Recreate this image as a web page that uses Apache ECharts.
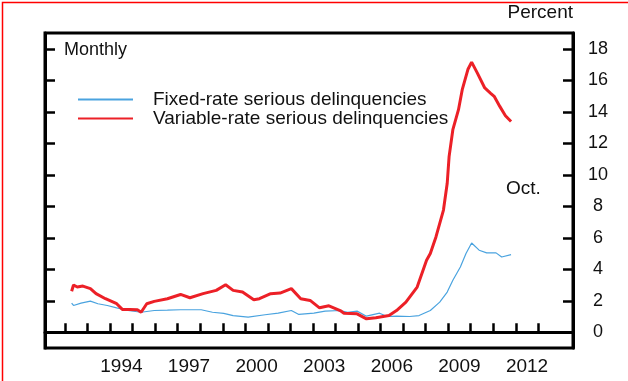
<!DOCTYPE html>
<html>
<head>
<meta charset="utf-8">
<script src="https://cdn.jsdelivr.net/npm/echarts@6/dist/echarts.min.js"></script>
<style>
html,body{margin:0;padding:0;background:#fff;}
#chart{width:628px;height:381px;}
</style>
</head>
<body>
<div id="chart"></div>
<script>
// Data (month, percent)
var fixedDates = ['1992-04','1992-05','1992-09','1993-02','1993-06','1993-11','1994-04','1994-10','1995-05','1995-12','1996-07','1997-02','1998-01','1998-07','1999-01','1999-06','2000-02','2000-11','2001-06','2002-01','2002-05','2003-01','2003-07','2004-03','2004-07','2004-12','2005-05','2005-12','2006-04','2006-09','2007-04','2007-09','2008-03','2008-08','2008-12','2009-03','2009-07','2009-10','2010-01','2010-05','2010-09','2011-02','2011-05','2011-10'];
var fixedValues = [1.85,1.7,1.85,1.98,1.81,1.7,1.55,1.38,1.27,1.38,1.4,1.43,1.43,1.27,1.2,1.06,0.96,1.11,1.21,1.38,1.13,1.21,1.34,1.38,1.27,1.34,1.02,1.21,1.0,1.02,1.0,1.06,1.38,1.91,2.55,3.3,4.14,5.0,5.67,5.21,5.04,5.04,4.78,4.93];

var variableDates = ['1992-04','1992-05','1992-07','1992-10','1993-02','1993-05','1993-10','1994-04','1994-07','1994-11','1995-03','1995-05','1995-08','1995-12','1996-07','1997-02','1997-07','1998-02','1998-09','1999-02','1999-06','1999-11','2000-05','2000-08','2001-02','2001-07','2002-01','2002-06','2002-11','2003-04','2003-09','2004-03','2004-05','2004-12','2005-05','2005-10','2006-05','2006-09','2007-02','2007-08','2008-01','2008-03','2008-06','2008-10','2008-12','2009-01','2009-03','2009-06','2009-08','2009-11','2010-01','2010-04','2010-08','2010-11','2011-01','2011-04','2011-07','2011-10'];
var variableValues = [2.6,3.0,2.87,2.93,2.77,2.45,2.13,1.81,1.45,1.45,1.43,1.27,1.81,1.96,2.13,2.4,2.19,2.45,2.66,3.02,2.66,2.55,2.06,2.13,2.45,2.49,2.77,2.13,2.02,1.55,1.68,1.38,1.21,1.17,0.85,0.92,1.06,1.38,1.91,2.87,4.57,5.0,6.05,7.76,9.46,11.15,12.86,14.13,15.4,16.68,17.15,16.47,15.51,15.19,14.98,14.34,13.75,13.38];

var xTickYears = [1992,1993,1994,1995,1996,1997,1998,1999,2000,2001,2002,2003,2004,2005,2006,2007,2008,2009,2010,2011,2012,2013];
var xLabelYears = [1994,1997,2000,2003,2006,2009,2012];
var yTicks = [0,2,4,6,8,10,12,14,16,18];

function toYear(d){var p=d.split('-');return +p[0]+(+p[1]-1)/12+1/24;}
function pairs(dates,vals){return dates.map(function(d,i){return [toYear(d),vals[i]];});}

var FONT = '"Liberation Sans", Arial, sans-serif';
var chart = echarts.init(document.getElementById('chart'), null, {renderer:'canvas'});
chart.setOption({
  animation:false,
  backgroundColor:'#fff',
  textStyle:{fontFamily:FONT},
  grid:{left:45,right:55,top:33,bottom:33,show:true,borderColor:'#000',borderWidth:3,containLabel:false},
  legend:{
    show:true,orient:'vertical',left:77,top:90,right:'auto',bottom:'auto',
    itemWidth:55,itemHeight:19,itemGap:0,padding:0,
    itemStyle:{opacity:0},
    textStyle:{fontFamily:FONT,fontSize:19,color:'#111',padding:[0,0,0,15],lineHeight:19},
    data:['Fixed-rate serious delinquencies','Variable-rate serious delinquencies']
  },
  xAxis:{
    type:'value',min:1991.11,max:2014.54,
    splitLine:{show:false},
    axisLine:{show:true,lineStyle:{color:'#000',width:3}},
    axisTick:{show:true,inside:true,length:9,lineStyle:{color:'#000',width:2.5},customValues:xTickYears},
    axisLabel:{show:true,customValues:xLabelYears.map(function(y){return y+0.5;}),
      formatter:function(v){return String(Math.floor(v));},
      fontFamily:FONT,fontSize:19,color:'#111',margin:9}
  },
  yAxis:[{
    type:'value',position:'left',min:-1,max:19,
    splitLine:{show:false},
    axisLine:{show:true,lineStyle:{color:'#000',width:3}},
    axisTick:{show:true,inside:true,length:10,lineStyle:{color:'#000',width:2.5},customValues:yTicks},
    axisLabel:{show:false}
  },{
    type:'value',position:'right',min:-1,max:19,
    splitLine:{show:false},
    axisLine:{show:true,lineStyle:{color:'#000',width:3}},
    axisTick:{show:true,inside:true,length:10,lineStyle:{color:'#000',width:2.5},customValues:yTicks},
    axisLabel:{show:true,customValues:yTicks,align:'center',margin:25,fontFamily:FONT,fontSize:18,color:'#111'}
  }],
  series:[{
    name:'Fixed-rate serious delinquencies',type:'line',yAxisIndex:0,
    data:pairs(fixedDates,fixedValues),showSymbol:false,symbol:'none',
    lineStyle:{color:'#4aa3df',width:1.2},itemStyle:{color:'#4aa3df'}
  },{
    name:'Variable-rate serious delinquencies',type:'line',yAxisIndex:0,
    data:pairs(variableDates,variableValues),showSymbol:false,symbol:'none',
    lineStyle:{color:'#ec2027',width:3},itemStyle:{color:'#ec2027'}
  }],
  graphic:[
    {type:'text',left:64,top:41,style:{text:'Monthly',font:'18px '+FONT,fill:'#111'}},
    {type:'text',right:55,top:3,style:{text:'Percent',font:'19px '+FONT,fill:'#111'}},
    {type:'text',left:506,top:179,style:{text:'Oct.',font:'19px '+FONT,fill:'#111'}},
    {type:'rect',left:0,top:0,shape:{x:0.75,y:0.75,width:626.5,height:379.5},style:{fill:'none',stroke:'#f00',lineWidth:1.5},silent:true}
  ]
});
</script>
</body>
</html>
